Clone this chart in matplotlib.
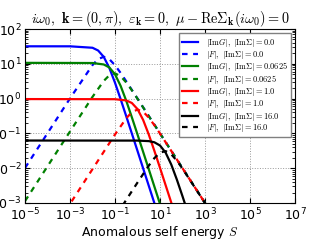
import matplotlib
matplotlib.use('Agg')
import matplotlib.pyplot as plt

# values, |ImG| and |F| vs S for four |Im Sigma|
s_g0 = [1e-5, 1e-3, 1e-2, 0.0178, 0.0316, 0.0562, 0.1, 0.178, 0.316, 1.0, 3.16, 10.0]
g0 = [31.83, 31.80, 28.90, 24.10, 15.82, 7.579, 2.859, 0.9616, 0.3115, 0.03138, 0.003142, 3.14e-4]
s_f0 = [1e-5, 1e-3, 1e-2, 0.0178, 0.0316, 0.0562, 0.1, 0.178, 0.316, 1.0, 10.0, 1000.0, 2000.0]
f0 = [0.01013, 1.012, 9.200, 13.65, 15.92, 13.56, 9.102, 5.448, 3.134, 0.999, 0.1, 1e-3, 5e-4]

s_g1 = [1e-5, 1e-2, 0.0316, 0.0562, 0.1, 0.178, 0.316, 0.562, 1.0, 3.16, 10.0, 17.8]
g1 = [10.65, 10.53, 9.565, 7.840, 4.990, 2.319, 0.8642, 0.2893, 0.0931, 0.0094, 9.39e-4, 2.96e-4]
s_f1 = [1e-5, 1e-3, 1e-2, 0.0316, 0.0562, 0.1, 0.178, 0.316, 0.562, 1.0, 10.0, 1000.0, 2000.0]
f1 = [1.134e-3, 0.1134, 1.121, 3.218, 4.692, 5.313, 4.395, 2.908, 1.731, 0.9913, 0.09999, 1e-3, 5e-4]

s_g2 = [1e-5, 0.1, 0.316, 0.562, 1.0, 1.78, 3.16, 5.62, 10.0, 31.6, 56.2]
g2 = [0.9695, 0.9605, 0.8863, 0.7476, 0.4998, 0.2437, 0.09335, 0.03159, 0.01021, 1.032e-3, 3.26e-4]
s_f2 = [1e-4, 1e-2, 0.1, 0.316, 0.562, 1.0, 1.78, 3.16, 5.62, 10.0, 100.0, 1000.0, 2000.0]
f2 = [9.4e-5, 0.0094, 0.09313, 0.2716, 0.4074, 0.4845, 0.4206, 0.2860, 0.1721, 0.09895, 0.01, 1e-3, 5e-4]

s_g3 = [1e-5, 1.0, 3.16, 5.62, 10.0, 17.8, 31.6, 56.2, 100.0, 178.0]
g3 = [0.06238, 0.06214, 0.06005, 0.05555, 0.04491, 0.02794, 0.01277, 0.004694, 0.001563, 5.02e-4]
s_f3 = [1e-2, 0.1, 0.316, 1.0, 3.16, 5.62, 10.0, 17.8, 31.6, 56.2, 100.0, 1000.0, 2000.0]
f3 = [3.89e-5, 3.89e-4, 1.23e-3, 3.876e-3, 0.01184, 0.01947, 0.02801, 0.03102, 0.02517, 0.01646, 0.00975, 1e-3, 5e-4]

im_sigma = ['0.0', '0.0625', '1.0', '16.0']
colors = ['b', 'g', 'r', 'k']
g_data = [(s_g0, g0), (s_g1, g1), (s_g2, g2), (s_g3, g3)]
f_data = [(s_f0, f0), (s_f1, f1), (s_f2, f2), (s_f3, f3)]

fig = plt.figure(figsize=(3.19, 2.52), dpi=100)
ax = fig.add_axes([25/319, 1 - 203/252, 270/319, 174/252])

for k in range(4):
    ax.loglog(g_data[k][0], g_data[k][1], color=colors[k], lw=1.6,
              label=r'$|\mathrm{Im}G|,\ |\mathrm{Im}\Sigma|=%s$' % im_sigma[k])
    ax.loglog(f_data[k][0], f_data[k][1], color=colors[k], lw=1.6, ls=(0, (2.5, 2.5)),
              label=r'$|F|,\ |\mathrm{Im}\Sigma|=%s$' % im_sigma[k])

ax.set_xlim(1e-5, 1e7)
ax.set_ylim(1e-3, 1e2)
ax.set_xticks([1e-5, 1e-3, 1e-1, 1e1, 1e3, 1e5, 1e7])
ax.grid(True, which='major', ls=':', color='0.6', lw=0.7)
ax.tick_params(which='both', direction='in', top=True, right=True, labelsize=9, pad=2.5)
ax.set_xlabel(r'Anomalous self energy $S$', fontsize=9, math_fontfamily='cm')
ax.xaxis.set_label_coords(0.5, -0.118)
ax.set_title(r'$i\omega_0,\ \mathbf{k}=(0,\pi),\ \varepsilon_{\mathbf{k}}=0,\ \mu-\mathrm{Re}\Sigma_{\mathbf{k}}(i\omega_0)=0$',
             fontsize=10.3, pad=3, math_fontfamily='cm')
leg = ax.legend(loc='upper right', fontsize=6, fancybox=False, framealpha=1,
                edgecolor='0.5', handlelength=2.0, handletextpad=0.9,
                labelspacing=-0.05, borderpad=0.35)
for t in leg.get_texts():
    t.set_math_fontfamily('cm')

fig.savefig('out.png', dpi=100)
